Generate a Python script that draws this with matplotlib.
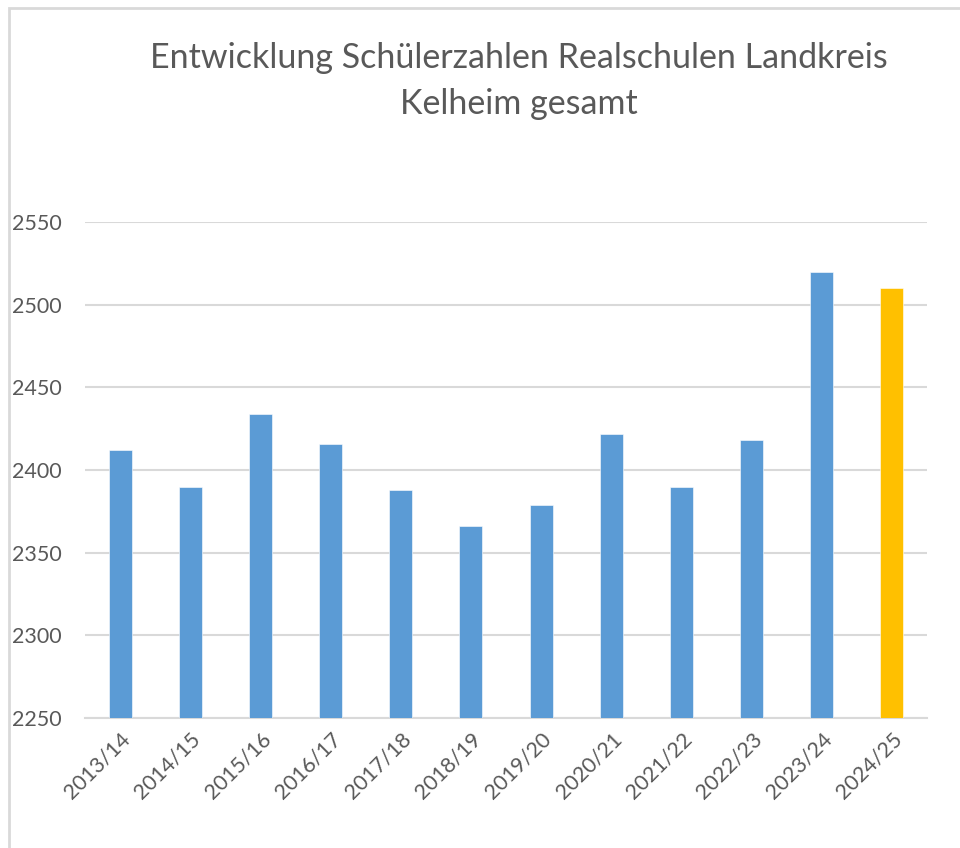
import numpy as np
import matplotlib.pyplot as plt
from matplotlib.patches import Rectangle

# school years and pupil counts
years = ['2013/14', '2014/15', '2015/16', '2016/17', '2017/18', '2018/19',
         '2019/20', '2020/21', '2021/22', '2022/23', '2023/24', '2024/25']
pupils = [2412, 2390, 2434, 2416, 2388, 2366, 2379, 2422, 2390, 2418, 2520, 2510]
yticks = [2250, 2300, 2350, 2400, 2450, 2500, 2550]

BLUE = '#5B9BD5'
GOLD = '#FFC000'
GRAY_TXT = '#595959'
GRID = '#D9D9D9'

plt.rcParams['font.family'] = ['Lato', 'DejaVu Sans']


def main():
    fig = plt.figure(figsize=(9.6, 8.48), dpi=100)
    # chart frame (cropped on the right and bottom)
    fig.patches.append(Rectangle((9/960, -0.1), 1.2, 0.1 + 1 - 8/848,
                                 transform=fig.transFigure, fill=False,
                                 edgecolor=GRID, linewidth=2))

    ax = fig.add_axes([85/960, 1-718/848, 842/960, 496/848])
    x = np.arange(len(years))
    colors = [BLUE]*(len(years)-1) + [GOLD]
    ax.bar(x, pupils, width=0.33, color=colors, zorder=3,
           edgecolor='#ffffff', linewidth=0.4)

    ax.set_xlim(-0.5, len(years)-0.5)
    ax.set_ylim(yticks[0], yticks[-1])
    ax.set_yticks(yticks)
    ax.yaxis.grid(True, color=GRID, linewidth=1.5, zorder=0)
    ax.set_axisbelow(True)
    for s in ['left', 'right', 'top']:
        ax.spines[s].set_visible(False)
    ax.spines['bottom'].set_color(GRID)
    ax.spines['bottom'].set_linewidth(1.5)
    ax.tick_params(axis='both', length=0, colors=GRAY_TXT, labelsize=15.5)
    ax.tick_params(axis='y', pad=17)
    ax.set_xticks(x)
    ax.set_xticklabels(years, rotation=45, ha='right', rotation_mode='anchor')
    ax.tick_params(axis='x', pad=8)

    fig.text(0.541, 1-81/848,
             'Entwicklung Schülerzahlen Realschulen Landkreis\nKelheim gesamt',
             ha='center', va='center', fontsize=24.5, color=GRAY_TXT,
             linespacing=1.5)

    fig.savefig('out.png', dpi=100, facecolor='white')
    plt.close(fig)


if __name__ == "__main__":
    main()
